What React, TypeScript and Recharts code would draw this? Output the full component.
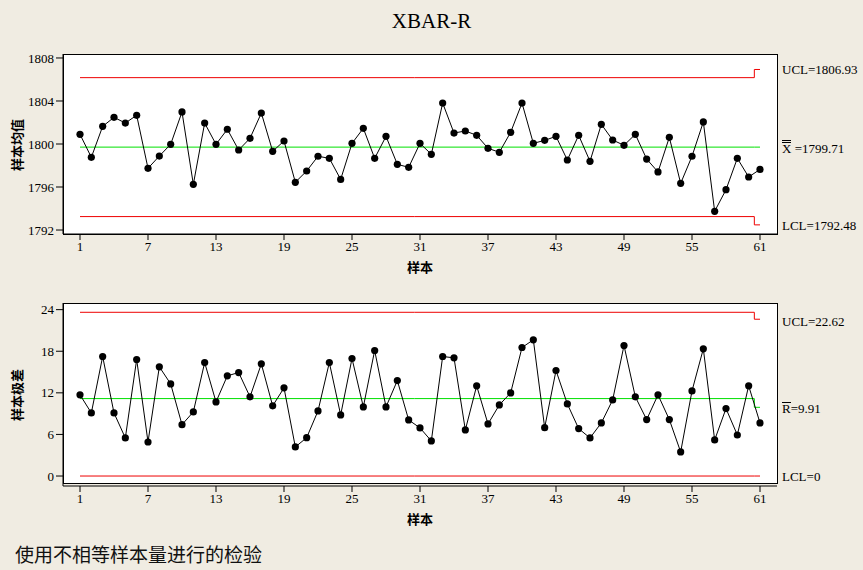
import React from "react";
import { ComposedChart, Line, XAxis, YAxis } from "recharts";

const SAMPLES = Array.from({ length: 61 }, (_, i) => i + 1);

const XBAR = [
  1800.9, 1798.76, 1801.64, 1802.48, 1801.95, 1802.67, 1797.74, 1798.88, 1799.97, 1802.98,
  1796.25, 1801.95, 1799.97, 1801.37, 1799.44, 1800.53, 1802.88, 1799.32, 1800.28, 1796.44,
  1797.49, 1798.86, 1798.67, 1796.71, 1800.06, 1801.46, 1798.67, 1800.71, 1798.11, 1797.83,
  1800.06, 1799.04, 1803.81, 1801.02, 1801.21, 1800.81, 1799.6, 1799.23, 1801.09, 1803.81,
  1800.06, 1800.34, 1800.71, 1798.51, 1800.81, 1798.39, 1801.83, 1800.37, 1799.88, 1800.9,
  1798.6, 1797.4, 1800.62, 1796.34, 1798.86, 1802.05, 1793.74, 1795.75, 1798.67, 1796.93,
  1797.64,
];

const RANGE = [
  11.71, 9.1, 17.24, 9.1, 5.49, 16.81, 4.91, 15.75, 13.29, 7.41,
  9.25, 16.37, 10.69, 14.45, 14.93, 11.42, 16.18, 10.12, 12.72, 4.19,
  5.53, 9.39, 16.37, 8.81, 16.95, 9.97, 18.11, 9.97, 13.77, 8.09,
  6.94, 5.06, 17.24, 17.05, 6.65, 13.01, 7.51, 10.26, 11.99, 18.54,
  19.65, 6.98, 15.22, 10.4, 6.84, 5.49, 7.66, 10.98, 18.83, 11.42,
  8.14, 11.71, 8.14, 3.47, 12.28, 18.35, 5.2, 9.73, 5.92, 13.01,
  7.66,
];

const X_TICKS = [1, 7, 13, 19, 25, 31, 37, 43, 49, 55, 61];
const XBAR_TICKS = [1792, 1796, 1800, 1804, 1808];
const R_TICKS = [0, 6, 12, 18, 24];

// [value for samples 1-60, value for sample 61]
const XBAR_UCL = [1806.17, 1806.93];
const XBAR_CL = [1799.71, 1799.71];
const XBAR_LCL = [1793.25, 1792.48];
const R_UCL = [23.62, 22.62];
const R_CL = [11.17, 9.91];
const R_LCL = [0, 0];

const LIMIT_X = [1, 60, 61];

const BG = "#f0ece2";
const RED = "#ee0000";
const GREEN = "#00e000";
const SERIF = "'Liberation Serif', serif";
const CJK = "'Noto Sans CJK SC', sans-serif";

const limitData = (vals: number[]) => [
  { x: LIMIT_X[0], v: vals[0] },
  { x: LIMIT_X[1], v: vals[0] },
  { x: LIMIT_X[2], v: vals[1] },
];

const xbarData = SAMPLES.map((s, i) => ({ x: s, v: XBAR[i] }));
const rangeData = SAMPLES.map((s, i) => ({ x: s, v: RANGE[i] }));

const tickStyle = { fill: "#000", fontSize: 13, fontFamily: SERIF };

function Panel(props: {
  top: number;
  data: { x: number; v: number }[];
  domain: [number, number];
  ticks: number[];
  ucl: number[];
  cl: number[];
  lcl: number[];
  bottomMargin: number;
}) {
  const { top, data, domain, ticks, ucl, cl, lcl, bottomMargin } = props;
  return (
    <div style={{ position: "absolute", left: 0, top, width: 863, height: 290 }}>
      <div
        style={{
          position: "absolute",
          left: 63,
          top: 54,
          width: 715,
          height: 181,
          background: "#fff",
          border: "1px solid #000",
          boxSizing: "border-box",
        }}
      />
      <div style={{ position: "absolute", left: 0, top: 0 }}>
        <ComposedChart
          width={863}
          height={290}
          data={data}
          margin={{ top: 54, right: 86, bottom: bottomMargin, left: 0 }}
        >
          <XAxis
            type="number"
            dataKey="x"
            domain={[-0.5, 62.5]}
            allowDataOverflow
            ticks={X_TICKS}
            interval={0}
            height={30}
            tick={tickStyle}
            tickSize={6}
            stroke="#000"
            tickLine={{ stroke: "#000" }}
          />
          <YAxis
            type="number"
            domain={domain}
            allowDataOverflow
            ticks={ticks}
            interval={0}
            width={63}
            tick={tickStyle}
            tickSize={7}
            stroke="#000"
            tickLine={{ stroke: "#000" }}
          />
          <Line
            data={limitData(ucl)}
            dataKey="v"
            type="step"
            stroke={RED}
            strokeWidth={1}
            dot={false}
            activeDot={false}
            isAnimationActive={false}
          />
          <Line
            data={limitData(lcl)}
            dataKey="v"
            type="step"
            stroke={RED}
            strokeWidth={1}
            dot={false}
            activeDot={false}
            isAnimationActive={false}
          />
          <Line
            data={limitData(cl)}
            dataKey="v"
            type="step"
            stroke={GREEN}
            strokeWidth={1}
            dot={false}
            activeDot={false}
            isAnimationActive={false}
          />
          <Line
            dataKey="v"
            type="linear"
            stroke="#000"
            strokeWidth={1}
            dot={{ r: 3.6, fill: "#000", stroke: "#000", strokeWidth: 0 }}
            activeDot={false}
            isAnimationActive={false}
          />
        </ComposedChart>
      </div>
    </div>
  );
}

const labelStyle: React.CSSProperties = {
  position: "absolute",
  left: 782,
  fontFamily: SERIF,
  fontSize: 13,
  color: "#000",
  lineHeight: "14px",
  whiteSpace: "nowrap",
  transform: "translateY(-50%)",
};

const axisTitle: React.CSSProperties = {
  position: "absolute",
  fontFamily: CJK,
  fontSize: 13,
  fontWeight: "bold",
  color: "#000",
  whiteSpace: "nowrap",
  lineHeight: "14px",
};

export default function App() {
  return (
    <div
      style={{
        position: "absolute",
        left: 0,
        top: 0,
        width: 863,
        height: 570,
        background: BG,
        overflow: "hidden",
      }}
    >
      <div
        style={{
          position: "absolute",
          left: 0,
          width: 863,
          top: 9,
          textAlign: "center",
          fontFamily: SERIF,
          fontSize: 21,
          lineHeight: "24px",
          color: "#000",
          paddingLeft: 0,
        }}
      >
        <span style={{ position: "relative", left: 0 }}>XBAR-R</span>
      </div>

      <Panel
        top={0}
        data={xbarData}
        domain={[1791.63, 1808.37]}
        ticks={XBAR_TICKS}
        ucl={XBAR_UCL}
        cl={XBAR_CL}
        lcl={XBAR_LCL}
        bottomMargin={26}
      />
      <Panel
        top={249}
        data={rangeData}
        domain={[-1.44, 24.96]}
        ticks={R_TICKS}
        ucl={R_UCL}
        cl={R_CL}
        lcl={R_LCL}
        bottomMargin={23}
      />

      <div style={{ ...labelStyle, top: 70 }}>UCL=1806.93</div>
      <div style={{ ...labelStyle, top: 148 }}>
        <span style={{ borderTop: "3px double #000", lineHeight: "11px", display: "inline-block" }}>X</span>
        {" =1799.71"}
      </div>
      <div style={{ ...labelStyle, top: 226 }}>LCL=1792.48</div>

      <div style={{ ...labelStyle, top: 322 }}>UCL=22.62</div>
      <div style={{ ...labelStyle, top: 409 }}>
        <span style={{ borderTop: "1px solid #000", lineHeight: "11px", display: "inline-block" }}>R</span>
        {"=9.91"}
      </div>
      <div style={{ ...labelStyle, top: 477 }}>LCL=0</div>

      <div style={{ ...axisTitle, left: 420, top: 267, transform: "translate(-50%, -50%)" }}>样本</div>
      <div style={{ ...axisTitle, left: 420, top: 519, transform: "translate(-50%, -50%)" }}>样本</div>
      <div
        style={{
          ...axisTitle,
          left: 17,
          top: 145,
          transform: "translate(-50%, -50%) rotate(-90deg)",
        }}
      >
        样本均值
      </div>
      <div
        style={{
          ...axisTitle,
          left: 17,
          top: 395,
          transform: "translate(-50%, -50%) rotate(-90deg)",
        }}
      >
        样本极差
      </div>

      <div
        style={{
          position: "absolute",
          left: 15,
          top: 543,
          fontFamily: CJK,
          fontSize: 19,
          lineHeight: "22px",
          color: "#111",
          whiteSpace: "nowrap",
        }}
      >
        使用不相等样本量进行的检验
      </div>
    </div>
  );
}
